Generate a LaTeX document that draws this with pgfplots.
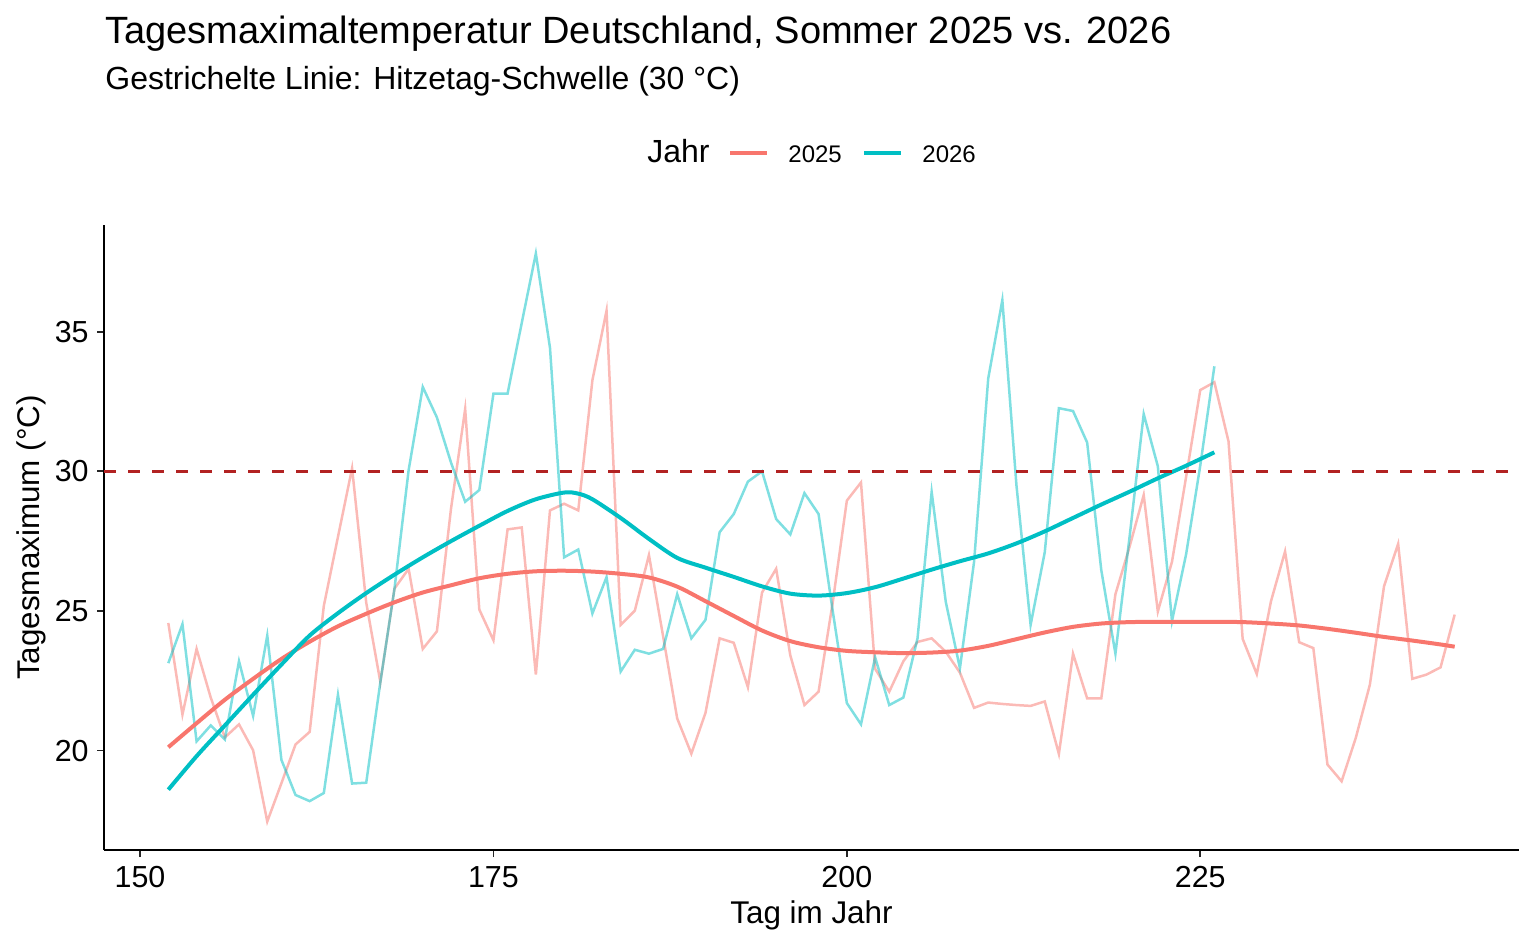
\documentclass[border=0pt]{standalone}
\usepackage{pgfplots}
\pgfplotsset{compat=1.18}
\usepackage{pgfplotstable}
\usepackage{fontspec}
\setmainfont{Liberation Sans}
\definecolor{c25}{HTML}{F8766D}
\definecolor{c26}{HTML}{00BFC4}
\definecolor{fb}{HTML}{B22222}
\newcommand{\fs}[1]{\fontsize{#1}{#1}\selectfont}

\pgfplotstableread{
day T
152 24.57
153 21.29
154 23.64
155 21.90
156 20.47
157 20.94
158 20.01
159 17.46
160 18.83
161 20.22
162 20.67
163 25.18
164 27.65
165 30.11
166 25.30
167 22.45
168 25.80
169 26.51
170 23.64
171 24.27
172 28.67
173 32.23
174 25.05
175 23.95
176 27.92
177 27.99
178 22.72
179 28.60
180 28.84
181 28.60
182 33.26
183 35.75
184 24.50
185 25.01
186 27.00
187 24.10
188 21.15
189 19.89
190 21.35
191 24.02
192 23.86
193 22.27
194 25.66
195 26.51
196 23.41
197 21.63
198 22.11
199 25.30
200 28.95
201 29.60
202 22.93
203 22.11
204 23.20
205 23.89
206 24.02
207 23.54
208 22.79
209 21.53
210 21.72
211 21.67
212 21.63
213 21.60
214 21.76
215 19.88
216 23.47
217 21.87
218 21.87
219 25.60
220 27.30
221 29.15
222 24.98
223 26.76
224 29.80
225 32.91
226 33.19
227 31.07
228 24.00
229 22.74
230 25.34
231 27.13
232 23.88
233 23.67
234 19.50
235 18.90
236 20.45
237 22.36
238 25.88
239 27.40
240 22.57
241 22.72
242 22.98
243 24.87
}\rawA

\pgfplotstableread{
day T
152 23.13
153 24.53
154 20.33
155 20.90
156 20.40
157 23.20
158 21.24
159 24.12
160 19.67
161 18.41
162 18.19
163 18.48
164 22.00
165 18.82
166 18.85
167 22.45
168 25.80
169 30.04
170 33.02
171 31.93
172 30.31
173 28.91
174 29.33
175 32.78
176 32.78
177 35.31
178 37.80
179 34.42
180 26.92
181 27.20
182 24.91
183 26.21
184 22.83
185 23.61
186 23.47
187 23.64
188 25.60
189 24.02
190 24.68
191 27.82
192 28.47
193 29.63
194 30.00
195 28.29
196 27.74
197 29.22
198 28.47
199 25.00
200 21.70
201 20.94
202 23.34
203 21.63
204 21.90
205 24.02
206 29.26
207 25.32
208 22.95
209 26.76
210 33.32
211 36.13
212 29.49
213 24.50
214 27.10
215 32.26
216 32.16
217 31.03
218 26.46
219 23.47
220 27.65
221 32.05
222 30.18
223 24.64
224 27.03
225 30.20
226 33.76
}\rawB

\pgfplotstableread{
day T
152 20.12
154 20.98
156 21.82
158 22.57
160 23.28
162 23.90
164 24.45
166 24.90
168 25.31
170 25.66
172 25.92
174 26.17
176 26.33
178 26.42
180 26.44
182 26.41
184 26.33
186 26.20
188 25.87
190 25.35
192 24.82
194 24.30
196 23.92
198 23.70
200 23.57
202 23.52
204 23.49
206 23.51
208 23.58
210 23.75
212 23.99
214 24.23
216 24.43
218 24.55
220 24.60
222 24.61
224 24.61
226 24.61
228 24.60
230 24.55
232 24.48
234 24.36
236 24.22
238 24.07
240 23.94
242 23.80
243 23.72
}\smA

\pgfplotstableread{
day T
152 18.60
154 19.80
156 20.90
158 22.00
160 23.08
162 24.12
164 24.92
166 25.64
168 26.30
170 26.92
172 27.50
174 28.05
176 28.58
178 29.00
180 29.24
181 29.20
182 29.00
184 28.33
186 27.58
188 26.90
190 26.55
192 26.22
194 25.88
196 25.62
198 25.55
200 25.64
202 25.85
204 26.16
206 26.48
208 26.78
210 27.06
212 27.42
214 27.85
216 28.33
218 28.81
220 29.27
222 29.75
224 30.20
226 30.68
}\smB

\begin{document}
\begin{tikzpicture}[x=0.5pt,y=0.5pt]
\path[use as bounding box] (0,0) rectangle (1536,949);
\begin{axis}[
  at={(52pt,49.5pt)}, anchor=south west,
  scale only axis, width=707.5pt, height=312.5pt,
  xmin=147.45, xmax=247.55, ymin=16.44, ymax=38.82,
  axis lines=left,
  axis line style={-, line width=1pt, black},
  xtick={150,175,200,225}, ytick={20,25,30,35},
  tick align=outside, major tick length=3.5pt,
  tick style={line width=0.9pt, black!85},
  ticklabel style={font=\fs{15.2}},
  /pgf/number format/assume math mode=true,
  xticklabel style={anchor=north, inner sep=0pt, yshift=-4.5pt},
  yticklabel style={anchor=east, inner sep=0pt, xshift=-4pt},
]
\addplot[c25, opacity=0.5, line width=1.25pt] table[x=day,y=T] {\rawA};
\addplot[c26, opacity=0.5, line width=1.25pt] table[x=day,y=T] {\rawB};
\addplot[c25, line width=2pt, smooth] table[x=day,y=T] {\smA};
\addplot[c26, line width=2pt, smooth] table[x=day,y=T] {\smB};
\addplot[fb, line width=1.4pt, dash pattern=on 6pt off 6pt] coordinates {(147.45,30) (247.55,30)};
\end{axis}
% titles
\node[anchor=base west, inner sep=0pt, font=\fs{19}] at (105,905) {Tagesmaximaltemperatur Deutschland, Sommer 2025 vs. 2026};
\node[anchor=base west, inner sep=0pt, font=\fs{16}] at (105,859) {Gestrichelte Linie: Hitzetag-Schwelle (30 °C)};
% axis titles
\node[anchor=base, inner sep=0pt, font=\fs{15.7}] at (811.5,25.5) {Tag im Jahr};
\node[anchor=base, inner sep=0pt, rotate=90, font=\fs{15.7}] at (39.5,411.5) {Tagesmaximum (°C)};
% legend
\node[anchor=base west, inner sep=0pt, font=\fs{16}] at (647,786) {Jahr};
\draw[c25, line width=2pt] (730,795.7) -- (767,795.7);
\node[anchor=base west, inner sep=0pt, font=\fs{12}] at (788,786) {2025};
\draw[c26, line width=2pt] (864,795.7) -- (901,795.7);
\node[anchor=base west, inner sep=0pt, font=\fs{12}] at (922,786) {2026};
\end{tikzpicture}
\end{document}
